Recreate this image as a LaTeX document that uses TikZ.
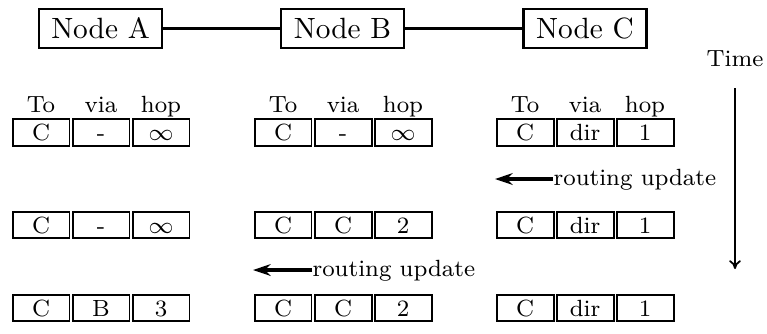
\documentclass[tikz,border=0pt]{standalone}
\usetikzlibrary{arrows.meta}
\begin{document}
\begin{tikzpicture}[x=0.3413pt,y=-0.3413pt,
  bignode/.style={draw,line width=0.8pt,minimum width=41.9pt,minimum height=13.2pt,inner sep=0pt,font=\normalsize},
  cell/.style={draw,line width=0.68pt,minimum width=19.45pt,minimum height=9.0pt,inner sep=0pt,font=\footnotesize,text height=5.5pt,text depth=0pt},
  hdr/.style={font=\footnotesize,anchor=base,inner sep=0pt},
  upd/.style={font=\footnotesize,anchor=mid west,inner sep=0pt},
  link/.style={line width=0.7pt},
  updarrow/.style={line width=1.4pt,-{Stealth[length=6pt,width=4pt]}},
  timearrow/.style={line width=0.6pt,-{To[length=3pt,width=4pt]}}
]
\useasboundingbox (0,0) rectangle (767,333);
% top nodes
\node[bignode] (A) at (100.5,28.5) {Node A};
\node[bignode] (B) at (342.5,28.5) {Node B};
\node[bignode] (C) at (585,28.5) {Node C};
\draw[link] (A) -- (B);
\draw[link] (B) -- (C);
% headers
\foreach \n/\x/\s in {ha1/41/To, ha2/101/via, ha3/161/hop,
                      hb1/283/To, hb2/343/via, hb3/403/hop,
                      hc1/525/To, hc2/585/via, hc3/645/hop}
  \node[hdr] (\n) at (\x,112) {\s};
% cells
\foreach \n/\x/\y/\s in {
  a11/41/132.5/C, a12/101/132.5/-, a13/161/132.5/$\infty$,
  b11/283/132.5/C, b12/343/132.5/-, b13/403/132.5/$\infty$,
  c11/525/132.5/C, c12/585/132.5/dir, c13/645/132.5/1,
  a21/41/225/C, a22/101/225/-, a23/161/225/$\infty$,
  b21/283/225/C, b22/343/225/C, b23/403/225/2,
  c21/525/225/C, c22/585/225/dir, c23/645/225/1,
  a31/41/308/C, a32/101/308/B, a33/161/308/3,
  b31/283/308/C, b32/343/308/C, b33/403/308/2,
  c31/525/308/C, c32/585/308/dir, c33/645/308/1}
  \node[cell] (\n) at (\x,\y) {\s};
% routing updates
\node[upd] (u1) at (553,179) {routing update};
\coordinate (u1end) at (495,179);
\draw[updarrow] (u1.mid west) -- (u1end);
\node[upd] (u2) at (312,270) {routing update};
\coordinate (u2end) at (253,270);
\draw[updarrow] (u2.mid west) -- (u2end);
% time
\node[hdr] (time) at (735,66) {Time};
\coordinate (t1) at (735,88);
\coordinate (t2) at (735,269);
\draw[timearrow] (t1) -- (t2);
\end{tikzpicture}
\end{document}
